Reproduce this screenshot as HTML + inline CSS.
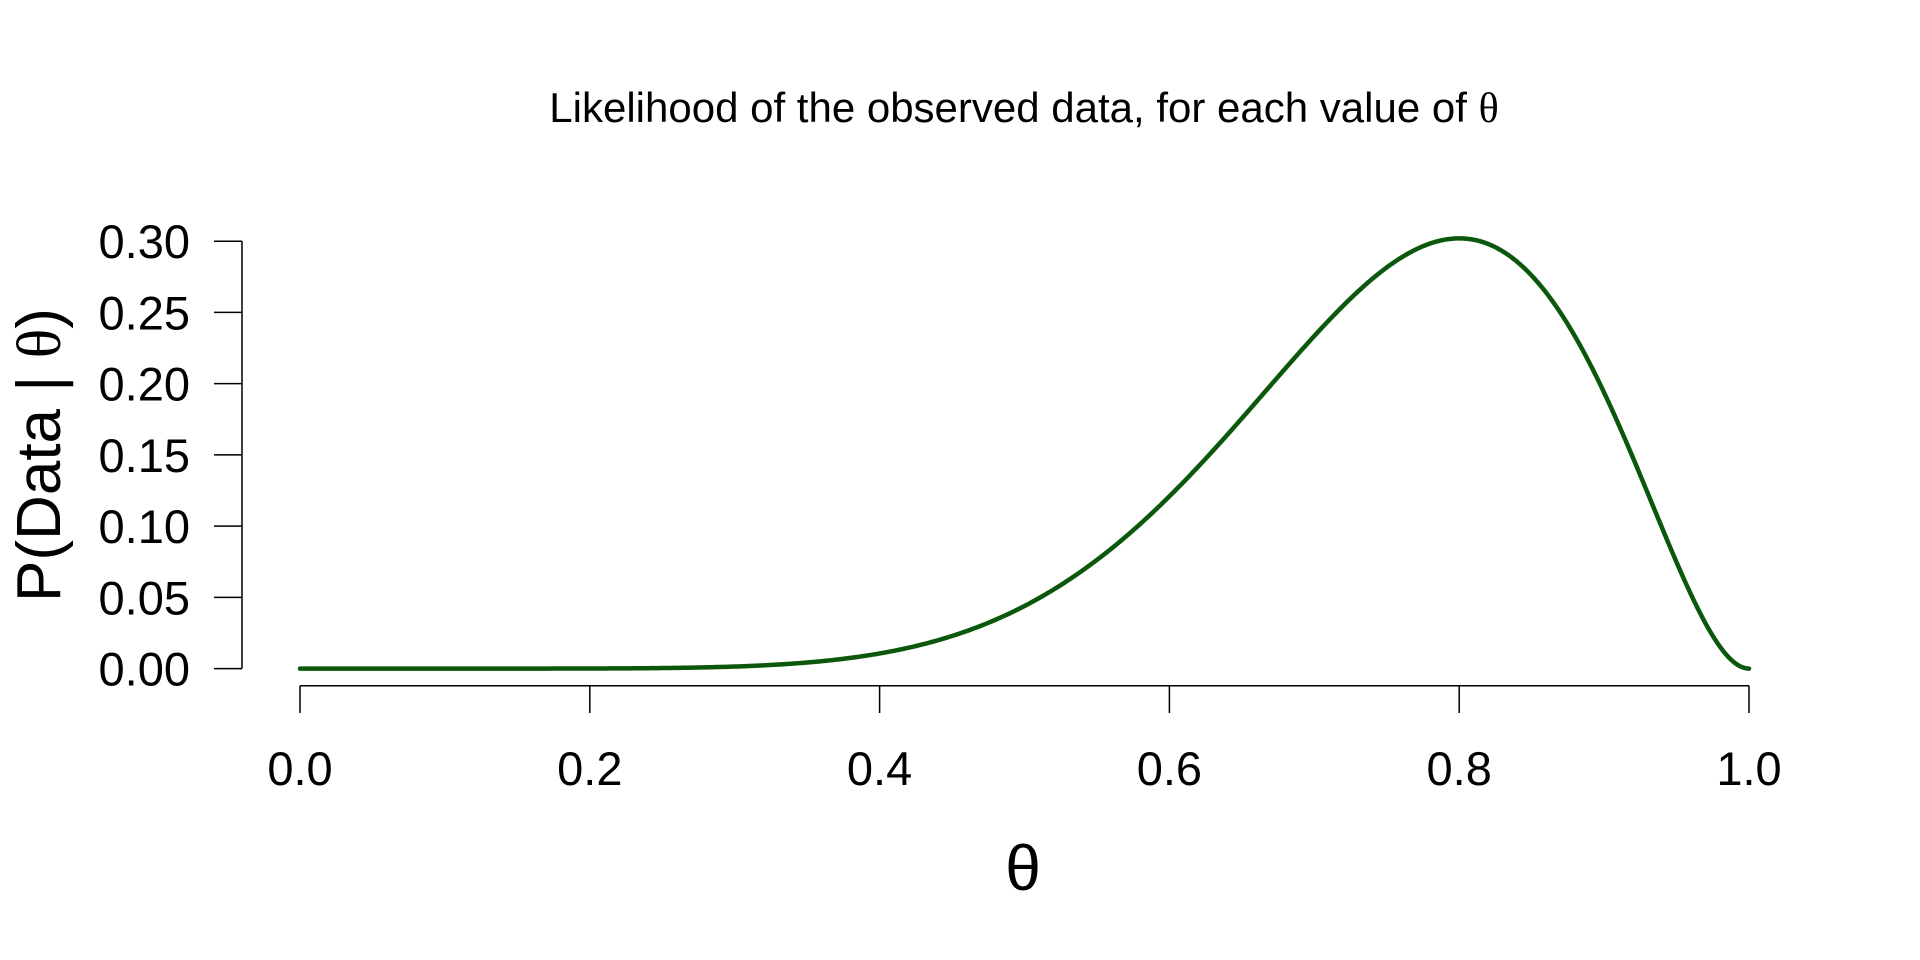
<!DOCTYPE html>
<html><head><meta charset="utf-8"><style>
html,body{margin:0;padding:0;background:#fff;}
svg{display:block}
text{font-family:"Liberation Sans",Arial,sans-serif;fill:#000}
</style></head><body>
<svg id="s" width="1920" height="960" viewBox="0 0 1920 960" xmlns="http://www.w3.org/2000/svg">
<text x="1024" y="122" font-size="42" text-anchor="middle">Likelihood of the observed data, for each value of <tspan font-family="Liberation Serif,serif">θ</tspan></text>
<g stroke="#000" stroke-width="1.5" fill="none">
<path d="M242 241.2V668.6"/>
<path d="M300 685.7H1749"/>
</g>
<g id="yt" stroke="#000" stroke-width="1.5"></g>
<g id="xt" stroke="#000" stroke-width="1.5"></g>
<g id="yl" font-size="47" text-anchor="end"></g>
<g id="xl" font-size="47" text-anchor="middle"></g>
<text transform="translate(60,455) rotate(-90)" font-size="62" text-anchor="middle">P(Data | <tspan font-family="Liberation Serif,serif">θ</tspan>)</text>
<text x="1023" y="890" font-size="64" text-anchor="middle" font-family="Liberation Serif,serif">θ</text>
<path id="c" fill="none" stroke="#0b570b" stroke-width="4.5" stroke-linecap="round" stroke-linejoin="round"/>
</svg>
<script>
var ns="http://www.w3.org/2000/svg";
function X(t){return 300+t*1449;}
function Y(v){return 668.6-v/0.30*427.4;}
var yt=document.getElementById('yt'),yl=document.getElementById('yl'),xt=document.getElementById('xt'),xl=document.getElementById('xl');
for(var i=0;i<=6;i++){var v=i*0.05,y=Y(v);
var l=document.createElementNS(ns,'line');l.setAttribute('x1',214);l.setAttribute('x2',242);l.setAttribute('y1',y);l.setAttribute('y2',y);yt.appendChild(l);
var t=document.createElementNS(ns,'text');t.setAttribute('x',190);t.setAttribute('y',y+17);t.textContent=v.toFixed(2);yl.appendChild(t);}
for(var i=0;i<=5;i++){var v=i*0.2,x=X(v);
var l=document.createElementNS(ns,'line');l.setAttribute('x1',x);l.setAttribute('x2',x);l.setAttribute('y1',685.7);l.setAttribute('y2',713);xt.appendChild(l);
var t=document.createElementNS(ns,'text');t.setAttribute('x',x);t.setAttribute('y',785);t.textContent=v.toFixed(1);xl.appendChild(t);}
var d='';for(var k=0;k<=500;k++){var th=k/500,v=45*Math.pow(th,8)*Math.pow(1-th,2);d+=(k?'L':'M')+X(th).toFixed(2)+' '+Y(v).toFixed(2);}
document.getElementById('c').setAttribute('d',d);
</script>
</body></html>
